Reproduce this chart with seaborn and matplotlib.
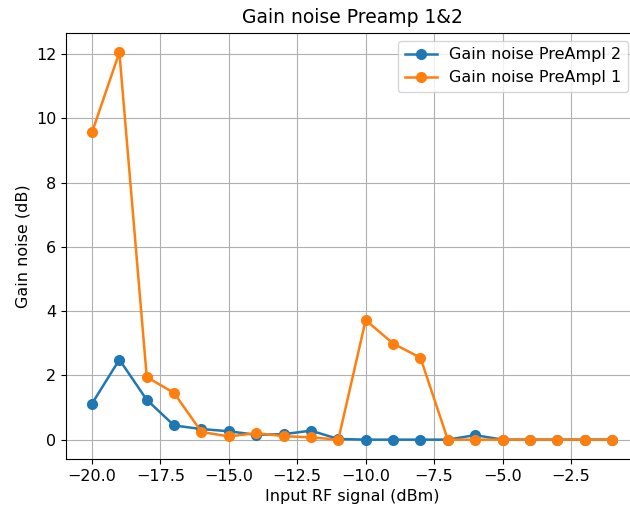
import matplotlib

matplotlib.use("Agg")
import matplotlib.pyplot as plt
import numpy as np
import pandas as pd
import seaborn as sns

input_dbm = list(range(-20, 0))
noise_pre2 = [1.12, 2.49, 1.24, 0.44, 0.33, 0.26, 0.15, 0.17, 0.28, 0.02,
              0.0, 0.0, 0.0, 0.0, 0.14, 0.0, 0.0, 0.0, 0.0, 0.0]
noise_pre1 = [9.56, 12.05, 1.95, 1.45, 0.24, 0.1, 0.2, 0.11, 0.07, 0.0,
              3.72, 2.99, 2.55, 0.0, 0.0, 0.0, 0.0, 0.0, 0.0, 0.0]

df = pd.DataFrame({
    "x": input_dbm * 2,
    "noise": noise_pre2 + noise_pre1,
    "series": ["Gain noise PreAmpl 2"] * len(input_dbm) + ["Gain noise PreAmpl 1"] * len(input_dbm),
})

plt.rcParams["font.size"] = 11.5

fig = plt.figure(figsize=(6.3, 5.12), dpi=100)
# the original image is cropped on the right, so the axes run past the edge
ax = fig.add_axes([66 / 630, 1 - 459 / 512, (638 - 66) / 630, (459 - 33) / 512])
sns.lineplot(
    data=df, x="x", y="noise", hue="series",
    palette=["#1f77b4", "#ff7f0e"], marker="o", markersize=8,
    markeredgewidth=0, linewidth=1.8, ax=ax,
)
ax.grid(True)
ax.set_title("Gain noise Preamp 1&2", fontsize=13.5, pad=7)
ax.set_xlabel("Input RF signal (dBm)")
ax.set_ylabel("Gain noise (dB)")
ax.legend(loc="upper right", title=None, bbox_to_anchor=(1 - 2 / 572, 1))
plt.savefig("out.png", dpi=100)
